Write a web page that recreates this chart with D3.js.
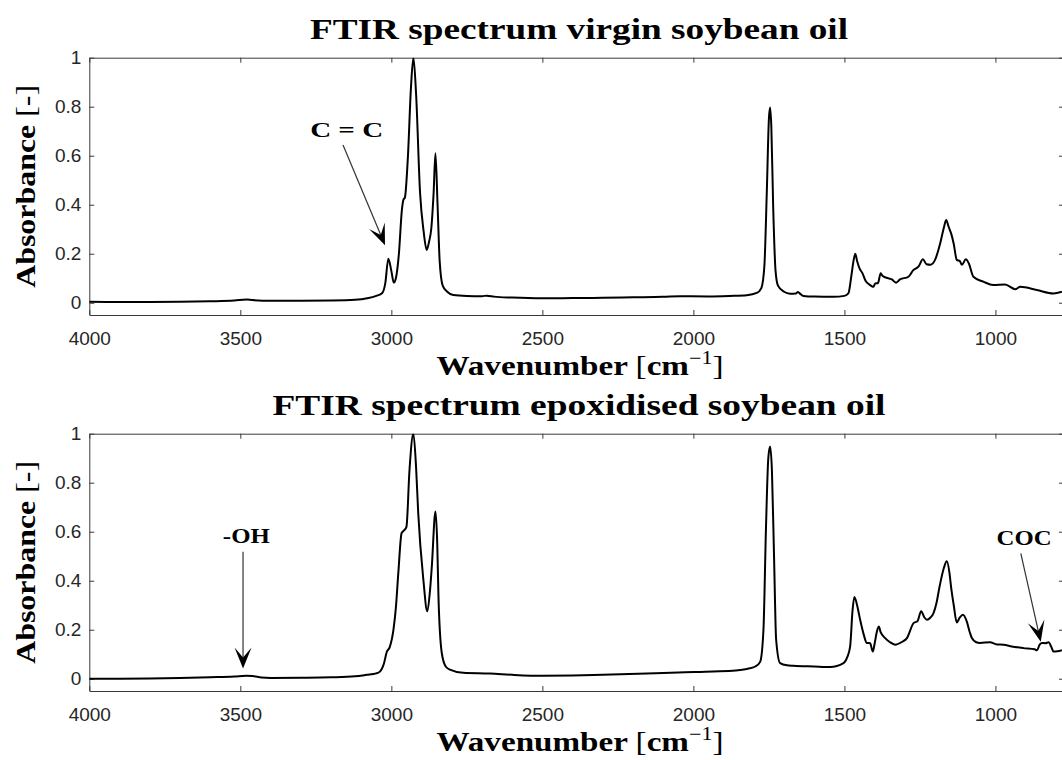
<!DOCTYPE html>
<html>
<head>
<meta charset="utf-8">
<script src="https://cdn.jsdelivr.net/npm/d3@7"></script>
<style>
  body { margin: 0; background: #fff; }
  .tick text { font-family: "Liberation Sans", Arial, sans-serif; font-size: 19px; fill: #262626; }
  .axis path, .axis line { stroke: #3a3a3a; stroke-width: 1; }
  .ttl { font-family: "Liberation Serif", serif; font-weight: bold; fill: #000; }
</style>
</head>
<body>
<div id="chart"></div>
<script>
// FTIR spectra

var xTicks = [4000, 3500, 3000, 2500, 2000, 1500, 1000]
var yTicks = [0, 0.2, 0.4, 0.6, 0.8, 1]
var yTickLabels = ["0", "0.2", "0.4", "0.6", "0.8", "1"]

var titles = ["FTIR spectrum virgin soybean oil", "FTIR spectrum epoxidised soybean oil"]

// virgin soybean oil
var wnTop = [4000, 3900, 3800, 3700, 3600, 3520, 3480, 3460, 3400, 3300, 3200, 3120, 3080, 3050, 3030, 3020, 3010, 3000, 2992, 2985,
  2975, 2965, 2960, 2955, 2945, 2935, 2927, 2918, 2905, 2893, 2883, 2875, 2868, 2860, 2854, 2847, 2840, 2830, 2815, 2795,
  2750, 2700, 2684, 2660, 2600, 2500, 2400, 2300, 2200, 2100, 2044, 1950, 1880, 1823, 1790, 1775, 1765, 1757, 1750, 1746,
  1742, 1736, 1728, 1720, 1700, 1680, 1660, 1654, 1645, 1636, 1600, 1536, 1500, 1487, 1477, 1470, 1464, 1458, 1450, 1440,
  1430, 1418, 1410, 1404, 1398, 1389, 1380, 1374, 1365, 1343, 1329, 1316, 1288, 1272, 1255, 1240, 1228, 1215, 1200, 1183,
  1170, 1163, 1155, 1146, 1138, 1128, 1118, 1111, 1098, 1088, 1073, 1040, 1007, 968, 934, 918, 863, 808, 780]
var absTop = [0.004, 0.003, 0.003, 0.004, 0.006, 0.009, 0.013, 0.011, 0.008, 0.008, 0.009, 0.012, 0.018, 0.028, 0.04, 0.08, 0.18, 0.13, 0.082, 0.1,
  0.2, 0.38, 0.42, 0.43, 0.6, 0.88, 1.0, 0.85, 0.45, 0.29, 0.215, 0.25, 0.3, 0.45, 0.61, 0.4, 0.17, 0.07, 0.045, 0.032,
  0.028, 0.027, 0.029, 0.025, 0.021, 0.018, 0.019, 0.02, 0.022, 0.024, 0.027, 0.026, 0.028, 0.031, 0.04, 0.06, 0.15, 0.45, 0.75, 0.797,
  0.72, 0.4, 0.13, 0.07, 0.045, 0.037, 0.038, 0.044, 0.035, 0.028, 0.025, 0.024, 0.028, 0.038, 0.11, 0.17, 0.2, 0.17, 0.14, 0.12,
  0.09, 0.075, 0.068, 0.065, 0.079, 0.08, 0.12, 0.11, 0.104, 0.095, 0.082, 0.095, 0.106, 0.133, 0.147, 0.177, 0.157, 0.155, 0.175, 0.242,
  0.31, 0.338, 0.31, 0.28, 0.24, 0.175, 0.17, 0.155, 0.177, 0.16, 0.106, 0.086, 0.072, 0.074, 0.055, 0.065, 0.052, 0.038, 0.045]

// epoxidised soybean oil
var wnBot = [4000, 3900, 3800, 3700, 3600, 3520, 3480, 3460, 3430, 3400, 3300, 3200, 3120, 3082, 3050, 3037, 3025, 3015, 3005, 2993,
  2985, 2977, 2966, 2958, 2950, 2940, 2927, 2918, 2911, 2894, 2881, 2872, 2866, 2854, 2848, 2844, 2833, 2820, 2806, 2762,
  2673, 2600, 2497, 2400, 2300, 2154, 2050, 1934, 1860, 1823, 1795, 1779, 1768, 1760, 1752, 1746, 1740, 1733, 1726, 1713,
  1690, 1669, 1600, 1547, 1503, 1490, 1481, 1473, 1467, 1458, 1448, 1436, 1426, 1415, 1406, 1399, 1393, 1386, 1380, 1365,
  1350, 1332, 1310, 1293, 1271, 1258, 1246, 1235, 1227, 1215, 1205, 1195, 1185, 1170, 1161, 1152, 1147, 1138, 1128, 1118,
  1108, 1095, 1085, 1078, 1065, 1051, 1018, 995, 973, 946, 907, 870, 863, 853, 846, 835, 824, 815, 808, 795, 780]
var absBot = [0.0, 0.0, 0.001, 0.003, 0.006, 0.009, 0.012, 0.011, 0.005, 0.003, 0.004, 0.006, 0.01, 0.016, 0.022, 0.03, 0.06, 0.11, 0.13, 0.2,
  0.29, 0.43, 0.595, 0.605, 0.62, 0.85, 1.0, 0.86, 0.676, 0.404, 0.275, 0.36, 0.458, 0.683, 0.55, 0.336, 0.105, 0.05, 0.037, 0.024,
  0.021, 0.016, 0.012, 0.013, 0.016, 0.021, 0.026, 0.03, 0.034, 0.04, 0.05, 0.069, 0.2, 0.6, 0.9, 0.948, 0.85, 0.5, 0.159, 0.064,
  0.055, 0.053, 0.05, 0.048, 0.064, 0.09, 0.132, 0.28, 0.334, 0.3, 0.241, 0.18, 0.146, 0.145, 0.111, 0.15, 0.19, 0.213, 0.19, 0.166,
  0.15, 0.139, 0.15, 0.166, 0.227, 0.235, 0.275, 0.25, 0.241, 0.25, 0.268, 0.31, 0.376, 0.455, 0.479, 0.43, 0.376, 0.3, 0.23, 0.25,
  0.261, 0.234, 0.19, 0.166, 0.15, 0.146, 0.149, 0.14, 0.139, 0.132, 0.125, 0.12, 0.116, 0.14, 0.146, 0.145, 0.149, 0.13, 0.111, 0.112, 0.116]

// annotations: label, text position, arrow start, arrow tip (wavenumber, absorbance)
var notesTop = [{label: "C = C", tx: 3148, ty: 0.676, x1: 3160, y1: 0.644, x2: 3021, y2: 0.235}]
var notesBot = [{label: "-OH", tx: 3480, ty: 0.553, x1: 3491, y1: 0.518, x2: 3491, y2: 0.042},
                {label: "COC", tx: 905, ty: 0.546, x1: 916, y1: 0.512, x2: 850, y2: 0.151}]
var noteWidths = {"C = C": 73, "-OH": 47, "COC": 55}

var width = 1062
var height = 760

var svg = d3.select('#chart').append('svg')
            .attr('width', width)
            .attr('height', height)
            .style('background', '#fff')

var x = d3.scaleLinear().domain([4000, 773]).range([89.3, 1064])

function drawPanel(top, wn, ab, title, notes, idx) {
  var bottom = top + 257.3
  var y = d3.scaleLinear().domain([-0.05, 1]).range([bottom, top])
  var g = svg.append('g')

  g.append('clipPath').attr('id', 'clip' + idx)
    .append('rect')
    .attr('x', x.range()[0]).attr('y', top)
    .attr('width', x.range()[1] - x.range()[0]).attr('height', bottom - top)

  // axes with inward ticks, box style
  g.append('g').attr('class', 'axis')
    .attr('transform', 'translate(0,' + bottom + ')')
    .call(d3.axisBottom(x).tickValues(xTicks).tickSizeInner(-5).tickSizeOuter(0).tickPadding(16.5).tickFormat(d3.format('d')))
  g.append('g').attr('class', 'axis')
    .attr('transform', 'translate(0,' + top + ')')
    .call(d3.axisTop(x).tickValues(xTicks).tickSizeInner(-5).tickSizeOuter(0).tickFormat(''))
  g.append('g').attr('class', 'axis')
    .attr('transform', 'translate(' + x.range()[0] + ',0)')
    .call(d3.axisLeft(y).tickValues(yTicks).tickSizeInner(-5).tickSizeOuter(0).tickPadding(8)
      .tickFormat(function(d, i) { return yTickLabels[i] }))
  g.append('g').attr('class', 'axis')
    .attr('transform', 'translate(' + x.range()[1] + ',0)')
    .call(d3.axisRight(y).tickValues(yTicks).tickSizeInner(-5).tickSizeOuter(0).tickFormat(''))

  var line = d3.line()
               .x(function(d) { return x(d[0]) })
               .y(function(d) { return y(d[1]) })
               .curve(d3.curveMonotoneX)

  g.append('path')
    .datum(d3.zip(wn, ab))
    .attr('clip-path', 'url(#clip' + idx + ')')
    .attr('fill', 'none')
    .attr('stroke', '#000')
    .attr('stroke-width', 2)
    .attr('stroke-linejoin', 'round')
    .attr('d', line)

  // title
  g.append('text').attr('class', 'ttl')
    .attr('x', 579).attr('y', top - 18.5)
    .attr('text-anchor', 'middle')
    .attr('font-size', 30)
    .attr('textLength', idx == 0 ? 538 : 613)
    .attr('lengthAdjust', 'spacingAndGlyphs')
    .text(title)

  // x label
  var xl = g.append('text').attr('class', 'ttl')
    .attr('x', 580).attr('y', bottom + 60)
    .attr('text-anchor', 'middle')
    .attr('font-size', 27)
    .attr('textLength', 287)
    .attr('lengthAdjust', 'spacingAndGlyphs')
  xl.append('tspan').text('Wavenumber ')
  xl.append('tspan').attr('font-weight', 'normal').text('[')
  xl.append('tspan').text('cm')
  xl.append('tspan').attr('font-weight', 'normal').attr('font-size', 18).attr('dy', -11).text('\u22121')
  xl.append('tspan').attr('font-weight', 'normal').attr('dy', 11).text(']')

  // y label
  var yl = g.append('text').attr('class', 'ttl')
    .attr('transform', 'translate(35,' + ((top + bottom) / 2) + ') rotate(-90)')
    .attr('text-anchor', 'middle')
    .attr('font-size', 28)
    .attr('textLength', 203)
    .attr('lengthAdjust', 'spacingAndGlyphs')
  yl.append('tspan').text('Absorbance ')
  yl.append('tspan').attr('font-weight', 'normal').text('[-]')

  // annotations
  notes.forEach(function(n) {
    var x1 = x(n.x1), y1 = y(n.y1), x2 = x(n.x2), y2 = y(n.y2)
    var ang = Math.atan2(y2 - y1, x2 - x1)
    var L = 21, W = 8.5, N = 11
    function pt(a, b) {
      return [x2 - a * Math.cos(ang) - b * Math.sin(ang), y2 - a * Math.sin(ang) + b * Math.cos(ang)]
    }
    var notch = pt(N, 0)
    g.append('line')
      .attr('x1', x1).attr('y1', y1).attr('x2', notch[0]).attr('y2', notch[1])
      .attr('stroke', '#333').attr('stroke-width', 1.2)
    g.append('path')
      .attr('d', 'M' + [x2, y2] + 'L' + pt(L, W) + 'L' + notch + 'L' + pt(L, -W) + 'Z')
      .attr('fill', '#000')
    g.append('text').attr('class', 'ttl')
      .attr('x', x(n.tx)).attr('y', y(n.ty))
      .attr('text-anchor', 'middle')
      .attr('font-size', 21)
      .attr('textLength', noteWidths[n.label])
      .attr('lengthAdjust', 'spacingAndGlyphs')
      .text(n.label)
  })
}

drawPanel(57.7, wnTop, absTop, titles[0], notesTop, 0)
drawPanel(433.7, wnBot, absBot, titles[1], notesBot, 1)
</script>
</body>
</html>
